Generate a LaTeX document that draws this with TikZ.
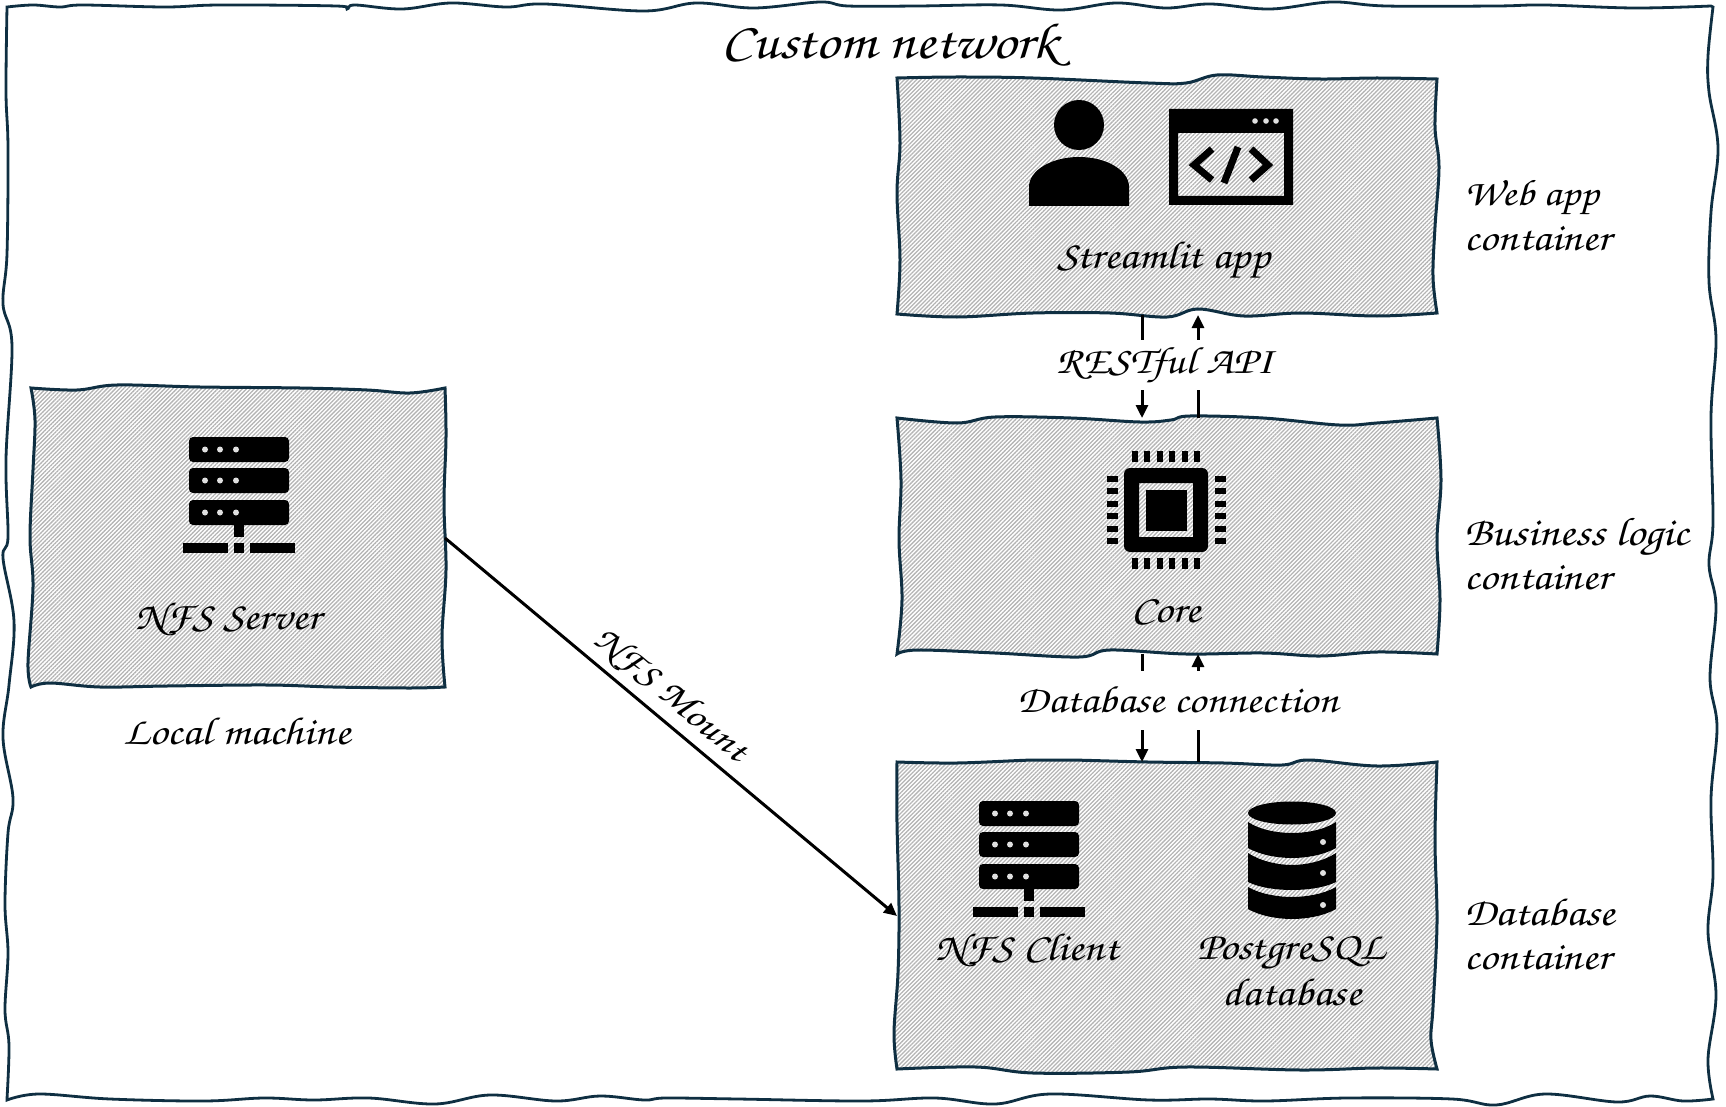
\documentclass[tikz,border=0pt]{standalone}
\usepackage{fontspec}
\setmainfont[FakeStretch=1.15]{TeX Gyre Chorus}
\usetikzlibrary{arrows.meta,patterns.meta}
\definecolor{inkblue}{HTML}{0F2F42}
\definecolor{hatchgrey}{HTML}{B4B4B4}
\tikzset{
  x=1pt,y=-1pt,
  outline/.style={draw=inkblue,line width=3pt,line join=miter},
  hatched/.style={outline,pattern={Lines[angle=45,distance=2.9pt,line width=1.3pt]},pattern color=hatchgrey},
  anchorbox/.style={inner sep=0pt,outer sep=0pt},
  hand/.style={inner sep=0pt,font=\fontsize{39}{44}\selectfont,text=black},
  handleft/.style={hand,anchor=west},
  link/.style={draw=black,line width=3pt},
  linkarrow/.style={link,-{Triangle[width=12pt,length=13pt]}},
  gaplabel/.style={hand,fill=white,minimum width=320pt},
  serverglyph/.pic={
    \foreach \t in {0,31,63}{
      \fill[rounded corners=4pt] (0,\t) rectangle (100,\t+25);
      \foreach \c in {16,31,47}{\fill[white!88!black] (\c,\t+12.5) circle[radius=3];}
    }
    \fill (45,88) rectangle (55,100);
    \fill (-6,106) rectangle (39,116);
    \fill (45,106) rectangle (55,116);
    \fill (61,106) rectangle (106,116);
  },
  chipglyph/.pic={
    \fill[even odd rule] [rounded corners=6pt] (1124,468) rectangle (1208,552)
      [sharp corners] (1139,483) rectangle (1193,537);
    \fill (1146,490) rectangle (1187,531);
    \foreach \p in {1135,1147,1160,1172,1185,1197}{
      \fill (\p-3,451) rectangle (\p+3,462);
      \fill (\p-3,558) rectangle (\p+3,569);
    }
    \foreach \p in {479,491,504,516,529,541}{
      \fill (1107,\p-3) rectangle (1118,\p+3);
      \fill (1215,\p-3) rectangle (1226,\p+3);
    }
  },
  userglyph/.pic={
    \fill (1079,125) ellipse[x radius=25,y radius=25];
    \fill (1029,206) -- (1029,187) .. controls (1029,170) and (1052,157) .. (1079,157)
      .. controls (1106,157) and (1129,170) .. (1129,187) -- (1129,206) -- cycle;
  },
  codeglyph/.pic={
    \fill[even odd rule] (1169,109) rectangle (1293,205) (1178,133) rectangle (1284,196);
    \foreach \c in {1255,1266,1276}{\fill[white!88!black] (\c,121) circle[radius=2.8];}
    \draw[line width=7pt,line join=miter] (1212,149) -- (1194,165) -- (1212,180);
    \draw[line width=7pt,line join=miter] (1251,149) -- (1268,165) -- (1251,180);
    \draw[line width=7pt] (1238,147) -- (1224,183);
  },
  dbglyph/.pic={
    \fill (1292,813) ellipse[x radius=44,y radius=11.5];
    \fill (1248,822) .. controls (1260,830) and (1278,833) .. (1292,833)
      .. controls (1306,833) and (1324,830) .. (1336,822) -- (1336,848)
      .. controls (1324,855) and (1306,858) .. (1292,858)
      .. controls (1278,858) and (1260,855) .. (1248,848) -- cycle;
    \fill (1248,853) .. controls (1260,861) and (1278,865) .. (1292,865)
      .. controls (1306,865) and (1324,861) .. (1336,853) -- (1336,882)
      .. controls (1324,888) and (1306,890) .. (1292,890)
      .. controls (1278,890) and (1260,888) .. (1248,882) -- cycle;
    \fill (1248,887) .. controls (1260,894) and (1278,897) .. (1292,897)
      .. controls (1306,897) and (1324,894) .. (1336,887) -- (1336,909)
      .. controls (1324,916) and (1306,919) .. (1292,919)
      .. controls (1278,919) and (1260,916) .. (1248,909) -- cycle;
    \foreach \d in {842,873,905}{\fill[white!88!black] (1323,\d) circle[radius=3];}
  },
}
\begin{document}
\begin{tikzpicture}
\useasboundingbox (0,0) rectangle (1726,1107);

% Outer network frame
\draw[outline,line width=2.8pt]
  plot[smooth,tension=.6] coordinates {(7,7) (33,5) (60,7) (83,5) (165,7) (220,5) (336,6) (347,9) (355,5) (402,9) (451,3) (506,7) (545,4) (644,11) (696,3) (754,8) (820,2) (848,6) (918,6) (1001,5) (1061,10) (1116,3) (1166,8) (1210,4) (1270,9) (1331,2) (1386,6) (1496,6) (1545,5) (1634,8) (1711,6)}
  -- plot[smooth,tension=.6] coordinates {(1713,7) (1708,56) (1709,92) (1718,148) (1711,212) (1709,282) (1716,339) (1711,416) (1713,522) (1709,565) (1716,607) (1710,678) (1717,727) (1711,798) (1713,875) (1708,932) (1716,995) (1708,1059) (1713,1099)}
  -- plot[smooth,tension=.6] coordinates {(1713,1099) (1683,1101) (1650,1096) (1617,1102) (1545,1094) (1496,1105) (1452,1099) (1347,1098) (1265,1101) (1210,1099) (1149,1100) (1050,1094) (995,1104) (935,1098) (863,1101) (738,1099) (666,1098) (644,1100) (600,1096) (556,1101) (490,1095) (435,1104) (369,1098) (314,1100) (264,1098) (204,1101) (110,1099) (39,1094) (7,1100)}
  -- plot[smooth,tension=.6] coordinates {(7,1099) (9,1045) (5,1010) (8,953) (5,904) (8,833) (13,798) (3,738) (9,685) (14,621) (3,558) (8,537) (6,459) (12,346) (3,304) (7,254) (8,148) (6,92) (7,7)} -- cycle;

% Hand-drawn container panels
\draw[hatched]
  plot[smooth,tension=.6] coordinates {(897,78) (957,77) (1033,78) (1148,83) (1186,83) (1217,75) (1263,77) (1320,79) (1377,78) (1437,79)}
  -- plot[smooth,tension=.6] coordinates {(1437,79) (1435,127) (1439,167) (1435,227) (1433,277) (1437,313)}
  -- plot[smooth,tension=.6] coordinates {(1437,313) (1377,316) (1301,313) (1244,316) (1198,309) (1167,317) (1110,313) (1033,313) (957,317) (897,314)}
  -- plot[smooth,tension=.6] coordinates {(897,314) (900,260) (897,193) (900,143) (897,78)} -- cycle;
\draw[hatched]
  plot[smooth,tension=.6] coordinates {(897,418) (957,423) (995,417) (1071,418) (1140,422) (1171,420) (1190,416) (1263,418) (1339,425) (1377,423) (1437,418)}
  -- plot[smooth,tension=.6] coordinates {(1437,418) (1441,480) (1437,540) (1440,600) (1437,654)}
  -- plot[smooth,tension=.6] coordinates {(1437,654) (1377,652) (1320,656) (1263,653) (1186,654) (1110,650) (1079,657) (995,653) (918,650) (897,654)}
  -- plot[smooth,tension=.6] coordinates {(897,654) (902,600) (899,540) (901,480) (897,418)} -- cycle;
\draw[hatched]
  plot[smooth,tension=.6] coordinates {(897,762) (957,763) (1033,760) (1071,760) (1148,762) (1224,763) (1282,765) (1309,760) (1377,766) (1437,762)}
  -- plot[smooth,tension=.6] coordinates {(1437,762) (1435,840) (1437,923) (1433,1007) (1431,1040) (1437,1069)}
  -- plot[smooth,tension=.6] coordinates {(1437,1069) (1377,1068) (1301,1070) (1186,1067) (1129,1072) (1033,1073) (976,1067) (897,1069)}
  -- plot[smooth,tension=.6] coordinates {(897,1069) (894,1033) (898,973) (899,907) (897,823) (897,762)} -- cycle;
\draw[hatched]
  plot[smooth,tension=.6] coordinates {(31,388) (77,390) (117,385) (200,387) (300,388) (367,390) (410,393) (445,388)}
  -- plot[smooth,tension=.6] coordinates {(445,388) (446,437) (444,503) (446,570) (442,637) (445,687)}
  -- plot[smooth,tension=.6] coordinates {(445,687) (410,688) (333,687) (267,685) (167,686) (100,687) (50,683) (31,687)}
  -- plot[smooth,tension=.6] coordinates {(31,687) (28,663) (33,587) (30,537) (33,470) (35,420) (31,388)} -- cycle;

% Reference rectangles for the connectors
\node[anchorbox,minimum width=540pt,minimum height=236pt] (webbox) at (1167,197) {};
\node[anchorbox,minimum width=540pt,minimum height=236pt] (corebox) at (1167,536) {};
\node[anchorbox,minimum width=540pt,minimum height=308pt] (dbbox) at (1167,916) {};
\node[anchorbox,minimum width=414pt,minimum height=300pt] (srvbox) at (238,538) {};

% Icons
\pic (user) {userglyph};
\pic (code) {codeglyph};
\pic (chip) {chipglyph};
\pic (pg) {dbglyph};
\pic (nfsserver) at (189,437) {serverglyph};
\pic (nfsclient) at (979,801) {serverglyph};

% Connectors
\draw[linkarrow] (webbox.south -| 1142,0) -- (corebox.north -| 1142,0);
\draw[linkarrow] (corebox.north -| 1198,0) -- (webbox.south -| 1198,0);
\draw[linkarrow] (corebox.south -| 1142,0) -- (dbbox.north -| 1142,0);
\draw[linkarrow] (dbbox.north -| 1198,0) -- (corebox.south -| 1198,0);
\draw[linkarrow] (srvbox.east) -- node[hand,font=\fontsize{37}{44}\selectfont,pos=.465,sloped,above=7pt] (mountlabel) {NFS Mount} (dbbox.west);

% Labels on the vertical connectors hide their middle section
\node[gaplabel,minimum height=50pt,font=\fontsize{38}{44}\selectfont] (restlabel) at (1165,365) {RESTful API};
\node[gaplabel,minimum height=59pt,font=\fontsize{38}{44}\selectfont] (dblabel) at (1178,700) {Database connection};

% Text
\node[hand,font=\fontsize{51}{56}\selectfont] (title) at (890,45) {Custom network};
\node[hand] (streamlit) at (1164,260) {Streamlit app};
\node[hand] (coretext) at (1166,612) {Core};
\node[hand] (nfssrvtext) at (228,619) {NFS Server};
\node[hand] (localtext) at (237,732) {Local machine};
\node[hand] (nfsclttext) at (1027,950) {NFS Client};
\node[hand] (pgtext) at (1291,953) {PostgreSQL};
\node[hand] (pgtextb) at (1292,993) {database};
\node[handleft,font=\fontsize{37}{44}\selectfont] (webl) at (1464,198) {Web app};
\node[handleft] (webc) at (1464,239) {container};
\node[handleft,font=\fontsize{40}{44}\selectfont] (bizl) at (1464,537) {Business logic};
\node[handleft] (bizc) at (1464,578) {container};
\node[handleft] (dbl) at (1464,913) {Database};
\node[handleft] (dbc) at (1464,958) {container};
\end{tikzpicture}
\end{document}
